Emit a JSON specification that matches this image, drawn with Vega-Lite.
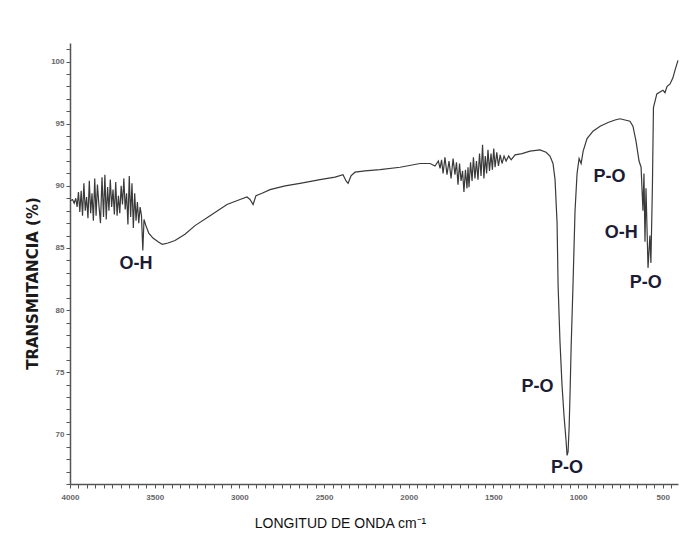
{
  "$schema": "https://vega.github.io/schema/vega-lite/v6.json",
  "width": 608,
  "height": 441,
  "autosize": {"type": "none"},
  "padding": {"left": 70, "top": 43, "right": 12, "bottom": 57},
  "background": "white",
  "config": {"view": {"stroke": null}, "font": "Liberation Sans"},
  "datasets": {
    "spectrum": [
      {"wn": 3998, "t": 88.8}, {"wn": 3985, "t": 88.9}, {"wn": 3975, "t": 88.6}, {"wn": 3966, "t": 89.0},
      {"wn": 3958, "t": 88.3}, {"wn": 3950, "t": 89.5}, {"wn": 3942, "t": 87.9}, {"wn": 3934, "t": 89.6},
      {"wn": 3926, "t": 87.6}, {"wn": 3918, "t": 90.2}, {"wn": 3910, "t": 88.0}, {"wn": 3902, "t": 89.1},
      {"wn": 3894, "t": 87.4}, {"wn": 3886, "t": 90.4}, {"wn": 3878, "t": 87.8}, {"wn": 3870, "t": 89.4},
      {"wn": 3862, "t": 87.2}, {"wn": 3854, "t": 90.6}, {"wn": 3846, "t": 87.6}, {"wn": 3838, "t": 90.1},
      {"wn": 3829, "t": 88.4}, {"wn": 3820, "t": 87.0}, {"wn": 3811, "t": 90.7}, {"wn": 3802, "t": 87.5},
      {"wn": 3794, "t": 90.9}, {"wn": 3786, "t": 87.3}, {"wn": 3778, "t": 89.9}, {"wn": 3770, "t": 88.0},
      {"wn": 3762, "t": 90.5}, {"wn": 3754, "t": 88.3}, {"wn": 3746, "t": 89.7}, {"wn": 3738, "t": 87.7},
      {"wn": 3730, "t": 90.3}, {"wn": 3722, "t": 87.6}, {"wn": 3714, "t": 89.2}, {"wn": 3706, "t": 87.8},
      {"wn": 3698, "t": 90.0}, {"wn": 3690, "t": 88.5}, {"wn": 3682, "t": 90.6}, {"wn": 3674, "t": 88.1},
      {"wn": 3666, "t": 89.4}, {"wn": 3658, "t": 86.9}, {"wn": 3650, "t": 90.8}, {"wn": 3642, "t": 87.5},
      {"wn": 3634, "t": 90.2}, {"wn": 3626, "t": 86.6}, {"wn": 3618, "t": 89.4}, {"wn": 3610, "t": 87.2},
      {"wn": 3602, "t": 88.7}, {"wn": 3594, "t": 87.0}, {"wn": 3586, "t": 88.3}, {"wn": 3578, "t": 87.6},
      {"wn": 3570, "t": 84.8}, {"wn": 3563, "t": 87.3}, {"wn": 3552, "t": 86.8},
      {"wn": 3535, "t": 86.2}, {"wn": 3510, "t": 85.8}, {"wn": 3480, "t": 85.5}, {"wn": 3455, "t": 85.3},
      {"wn": 3421, "t": 85.4}, {"wn": 3380, "t": 85.6}, {"wn": 3321, "t": 86.1}, {"wn": 3262, "t": 86.8},
      {"wn": 3173, "t": 87.6}, {"wn": 3073, "t": 88.5}, {"wn": 2996, "t": 88.9}, {"wn": 2955, "t": 89.1},
      {"wn": 2937, "t": 88.9}, {"wn": 2919, "t": 88.5}, {"wn": 2902, "t": 89.2}, {"wn": 2866, "t": 89.4},
      {"wn": 2819, "t": 89.7}, {"wn": 2730, "t": 90.0}, {"wn": 2642, "t": 90.2}, {"wn": 2524, "t": 90.5},
      {"wn": 2435, "t": 90.7}, {"wn": 2388, "t": 90.9}, {"wn": 2370, "t": 90.4}, {"wn": 2358, "t": 90.2},
      {"wn": 2341, "t": 90.8}, {"wn": 2317, "t": 91.1}, {"wn": 2258, "t": 91.2}, {"wn": 2170, "t": 91.3},
      {"wn": 2051, "t": 91.5}, {"wn": 1933, "t": 91.8}, {"wn": 1874, "t": 91.8}, {"wn": 1845, "t": 91.6},
      {"wn": 1825, "t": 92.0}, {"wn": 1815, "t": 91.4}, {"wn": 1806, "t": 92.1}, {"wn": 1797, "t": 91.0},
      {"wn": 1786, "t": 92.3}, {"wn": 1774, "t": 90.9}, {"wn": 1762, "t": 92.0}, {"wn": 1750, "t": 90.6},
      {"wn": 1738, "t": 92.2}, {"wn": 1727, "t": 90.9}, {"wn": 1718, "t": 91.9}, {"wn": 1709, "t": 90.1},
      {"wn": 1700, "t": 91.8}, {"wn": 1691, "t": 90.4}, {"wn": 1682, "t": 91.2}, {"wn": 1674, "t": 89.5},
      {"wn": 1665, "t": 91.3}, {"wn": 1656, "t": 89.8}, {"wn": 1650, "t": 91.5}, {"wn": 1644, "t": 89.9},
      {"wn": 1635, "t": 91.9}, {"wn": 1626, "t": 90.4}, {"wn": 1618, "t": 92.3}, {"wn": 1609, "t": 90.6},
      {"wn": 1600, "t": 92.0}, {"wn": 1591, "t": 90.5}, {"wn": 1582, "t": 92.6}, {"wn": 1573, "t": 90.8},
      {"wn": 1564, "t": 93.3}, {"wn": 1556, "t": 90.6}, {"wn": 1548, "t": 92.4}, {"wn": 1540, "t": 91.0},
      {"wn": 1532, "t": 92.9}, {"wn": 1523, "t": 91.2}, {"wn": 1514, "t": 92.6}, {"wn": 1506, "t": 91.3},
      {"wn": 1498, "t": 93.0}, {"wn": 1490, "t": 91.5}, {"wn": 1480, "t": 92.7}, {"wn": 1470, "t": 91.6},
      {"wn": 1460, "t": 92.5}, {"wn": 1449, "t": 91.8}, {"wn": 1437, "t": 92.4}, {"wn": 1425, "t": 92.0},
      {"wn": 1410, "t": 92.4}, {"wn": 1395, "t": 92.1},
      {"wn": 1372, "t": 92.5}, {"wn": 1331, "t": 92.6}, {"wn": 1284, "t": 92.8}, {"wn": 1225, "t": 92.9},
      {"wn": 1189, "t": 92.7}, {"wn": 1166, "t": 92.4}, {"wn": 1148, "t": 91.8}, {"wn": 1136, "t": 90.5},
      {"wn": 1124, "t": 87.0}, {"wn": 1118, "t": 82.0}, {"wn": 1107, "t": 77.5}, {"wn": 1095, "t": 74.0},
      {"wn": 1083, "t": 71.5}, {"wn": 1071, "t": 69.5}, {"wn": 1065, "t": 68.3}, {"wn": 1059, "t": 68.6},
      {"wn": 1053, "t": 70.5}, {"wn": 1047, "t": 73.5}, {"wn": 1041, "t": 77.0}, {"wn": 1030, "t": 82.0},
      {"wn": 1018, "t": 88.0}, {"wn": 1006, "t": 91.0}, {"wn": 994, "t": 92.2}, {"wn": 982, "t": 91.8},
      {"wn": 970, "t": 92.8}, {"wn": 947, "t": 93.8}, {"wn": 912, "t": 94.4}, {"wn": 870, "t": 94.8},
      {"wn": 823, "t": 95.1}, {"wn": 782, "t": 95.3}, {"wn": 752, "t": 95.4}, {"wn": 723, "t": 95.3},
      {"wn": 694, "t": 95.2}, {"wn": 676, "t": 94.8}, {"wn": 658, "t": 93.6}, {"wn": 640, "t": 92.0},
      {"wn": 628, "t": 91.5}, {"wn": 617, "t": 88.0}, {"wn": 611, "t": 91.0}, {"wn": 605, "t": 85.5},
      {"wn": 599, "t": 89.8}, {"wn": 587, "t": 83.4}, {"wn": 576, "t": 86.0}, {"wn": 570, "t": 83.8},
      {"wn": 561, "t": 90.0}, {"wn": 555, "t": 96.3}, {"wn": 535, "t": 97.4}, {"wn": 499, "t": 97.7},
      {"wn": 487, "t": 97.5}, {"wn": 475, "t": 98.0}, {"wn": 457, "t": 98.2}, {"wn": 440, "t": 98.7},
      {"wn": 428, "t": 99.3}, {"wn": 410, "t": 100.1}
    ],
    "labels": [
      {"wn": 3610, "t": 83.7, "label": "O-H"},
      {"wn": 1240, "t": 73.8, "label": "P-O"},
      {"wn": 1065, "t": 67.3, "label": "P-O"},
      {"wn": 815, "t": 90.7, "label": "P-O"},
      {"wn": 745, "t": 86.2, "label": "O-H"},
      {"wn": 600, "t": 82.2, "label": "P-O"}
    ]
  },
  "encoding": {
    "x": {
      "field": "wn", "type": "quantitative",
      "scale": {"domain": [4000, 410], "nice": false, "zero": false},
      "axis": {
        "title": "LONGITUD DE ONDA cm⁻¹",
        "values": [4000,3950,3900,3850,3800,3750,3700,3650,3600,3550,3500,3450,3400,3350,3300,3250,3200,3150,3100,3050,3000,2950,2900,2850,2800,2750,2700,2650,2600,2550,2500,2450,2400,2350,2300,2250,2200,2150,2100,2050,2000,1950,1900,1850,1800,1750,1700,1650,1600,1550,1500,1450,1400,1350,1300,1250,1200,1150,1100,1050,1000,950,900,850,800,750,700,650,600,550,500,450],
        "labelExpr": "datum.value % 500 === 0 ? datum.label : ''",
        "format": "d",
        "labelOverlap": false,
        "labelFlush": false,
        "grid": false,
        "domainColor": "#555555", "domainWidth": 1.5,
        "tickColor": "#555555", "tickSize": 4,
        "labelFontSize": 8, "labelColor": "#666666", "labelPadding": 5, "labelFontWeight": "bold",
        "titleFontSize": 14, "titleFontWeight": "normal", "titleColor": "#111111",
        "titleX": 270, "titleY": 39, "titleBaseline": "middle"
      }
    },
    "y": {
      "field": "t", "type": "quantitative",
      "scale": {"domain": [66, 101.5], "nice": false, "zero": false},
      "axis": {
        "title": "TRANSMITANCIA (%)",
        "values": [66,67,68,69,70,71,72,73,74,75,76,77,78,79,80,81,82,83,84,85,86,87,88,89,90,91,92,93,94,95,96,97,98,99,100,101],
        "labelExpr": "datum.value % 5 === 0 ? datum.label : ''",
        "labelOverlap": false,
        "labelFlush": false,
        "grid": false,
        "domainColor": "#555555", "domainWidth": 1.5,
        "tickColor": "#555555", "tickSize": 4,
        "labelFontSize": 8, "labelColor": "#666666", "labelPadding": 2, "labelFontWeight": "bold",
        "titleFont": "DejaVu Sans", "titleFontSize": 15, "titleFontWeight": "bold", "titleColor": "#1a1a1a",
        "titleX": -38, "titleY": 240, "titleAngle": -90, "titleAlign": "center", "titleBaseline": "middle"
      }
    }
  },
  "layer": [
    {
      "data": {"name": "spectrum"},
      "mark": {"type": "line", "color": "#3a3a3a", "strokeWidth": 1.2, "clip": false}
    },
    {
      "data": {"name": "labels"},
      "mark": {"type": "text", "fontWeight": "bold", "fontSize": 18, "color": "#1b1b36", "font": "Liberation Sans"},
      "encoding": {"text": {"field": "label"}}
    }
  ]
}
